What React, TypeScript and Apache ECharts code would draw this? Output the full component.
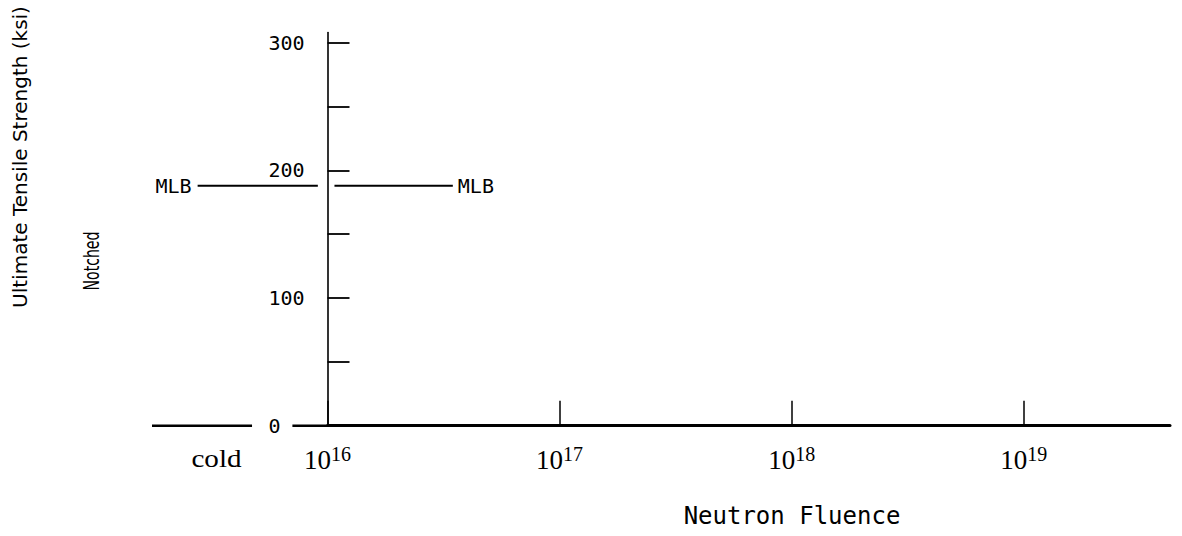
import React, { useEffect, useRef } from "react";
import * as echarts from "echarts";

// Neutron fluence is plotted as its base-10 exponent (10^16 ... 10^19).
const fluenceExponents = [16, 17, 18, 19];
const fluenceMax = 19.63;

// Ultimate tensile strength axis (ksi)
const strengthTicks = [50, 100, 150, 200, 250, 300];
const strengthLabels = [0, 100, 200, 300];
const strengthMax = 308;

// MLB reference level (ksi)
const mlbStrength = 188;
// Span of the MLB line on the irradiated side (fluence exponent)
const mlbIrradiatedSpan = [16.03, 16.54];

// The "cold" (unirradiated) band left of the fluence axis, in band units 0..100
const coldBandMax = 100;
const mlbColdSpan = [26, 94.5];
const coldBaselineSpan = [0, 57];
const fluenceAxisLeadIn = [80, 100];

const MONO = '"DejaVu Sans Mono", monospace';
const SANS = '"DejaVu Sans", sans-serif';
const SERIF = '"Liberation Serif", serif';

export default function App() {
  const ref = useRef<HTMLDivElement>(null);

  useEffect(() => {
    if (!ref.current) return;
    const chart = echarts.init(ref.current, undefined, { renderer: "svg" });

    const gridTop = 32.5;
    const gridBottom = 110.3;

    const lineStyle = (w: number) => ({ color: "#000", width: w, type: "solid" as const });

    const option: any = {
      animation: false,
      backgroundColor: "#fff",
      grid: [
        {
          left: 327.5,
          right: 12,
          top: gridTop,
          bottom: gridBottom,
          containLabel: false,
          outerBoundsMode: "none",
        },
        {
          left: 152,
          width: 175.5,
          top: gridTop,
          bottom: gridBottom,
          containLabel: false,
          outerBoundsMode: "none",
        },
      ],
      xAxis: [
        {
          type: "value",
          gridIndex: 0,
          min: fluenceExponents[0],
          max: fluenceMax,
          splitLine: { show: false },
          axisLine: { show: true, lineStyle: lineStyle(3) },
          axisTick: {
            show: true,
            inside: true,
            length: 25,
            customValues: fluenceExponents,
            lineStyle: lineStyle(1.5),
          },
          axisLabel: {
            show: true,
            customValues: fluenceExponents,
            margin: 18,
            formatter: (v: number) => `{b|10}{s|${Math.round(v)}}`,
            rich: {
              b: {
                fontFamily: SERIF,
                fontSize: 27,
                lineHeight: 30,
                verticalAlign: "bottom",
                color: "#000",
              },
              s: {
                fontFamily: SERIF,
                fontSize: 20,
                lineHeight: 22,
                verticalAlign: "top",
                color: "#000",
              },
            },
          },
        },
        {
          type: "value",
          gridIndex: 1,
          min: 0,
          max: coldBandMax,
          show: false,
        },
      ],
      yAxis: [
        {
          type: "value",
          gridIndex: 0,
          min: 0,
          max: strengthMax,
          splitLine: { show: false },
          axisLine: { show: true, lineStyle: lineStyle(1.6) },
          axisTick: {
            show: true,
            inside: true,
            length: 22,
            customValues: strengthTicks,
            lineStyle: lineStyle(1.8),
          },
          axisLabel: {
            show: true,
            customValues: strengthLabels,
            align: "left",
            margin: 59,
            fontFamily: MONO,
            fontSize: 20,
            color: "#000",
          },
        },
        {
          type: "value",
          gridIndex: 1,
          min: 0,
          max: strengthMax,
          show: false,
        },
      ],
      series: [
        {
          name: "MLB irradiated",
          type: "line",
          xAxisIndex: 0,
          yAxisIndex: 0,
          clip: false,
          silent: true,
          showSymbol: true,
          symbol: "circle",
          symbolSize: 0,
          lineStyle: lineStyle(2),
          itemStyle: { color: "#000" },
          data: [
            [mlbIrradiatedSpan[0], mlbStrength],
            {
              value: [mlbIrradiatedSpan[1], mlbStrength],
              label: {
                show: true,
                position: "right",
                distance: 5,
                formatter: "MLB",
                fontFamily: MONO,
                fontSize: 20,
                color: "#000",
              },
            },
          ],
        },
        {
          name: "MLB cold",
          type: "line",
          xAxisIndex: 1,
          yAxisIndex: 1,
          clip: false,
          silent: true,
          showSymbol: true,
          symbol: "circle",
          symbolSize: 0,
          lineStyle: lineStyle(2),
          itemStyle: { color: "#000" },
          data: [
            {
              value: [mlbColdSpan[0], mlbStrength],
              label: {
                show: true,
                position: "left",
                distance: 6,
                formatter: "MLB",
                fontFamily: MONO,
                fontSize: 20,
                color: "#000",
              },
            },
            [mlbColdSpan[1], mlbStrength],
          ],
        },
        {
          name: "cold baseline",
          type: "line",
          xAxisIndex: 1,
          yAxisIndex: 1,
          clip: false,
          silent: true,
          showSymbol: false,
          lineStyle: lineStyle(2.5),
          data: [
            [coldBaselineSpan[0], 0],
            [coldBaselineSpan[1], 0],
          ],
        },
        {
          name: "fluence axis lead-in",
          type: "line",
          xAxisIndex: 1,
          yAxisIndex: 1,
          clip: false,
          silent: true,
          showSymbol: false,
          lineStyle: lineStyle(2.5),
          data: [
            [fluenceAxisLeadIn[0], 0],
            [fluenceAxisLeadIn[1], 0],
          ],
        },
      ],
      graphic: [
        {
          type: "text",
          x: 20,
          y: 157,
          rotation: Math.PI / 2,
          style: {
            text: "Ultimate Tensile Strength (ksi)",
            font: `20px ${SANS}`,
            fill: "#000",
            textAlign: "center",
            textVerticalAlign: "middle",
          },
        },
        {
          type: "text",
          x: 91,
          y: 261,
          rotation: Math.PI / 2,
          scaleX: 0.64,
          style: {
            text: "Notched",
            font: `22px ${SANS}`,
            fill: "#000",
            textAlign: "center",
            textVerticalAlign: "middle",
          },
        },
        {
          type: "text",
          x: 792,
          y: 516,
          style: {
            text: "Neutron Fluence",
            font: `24px ${MONO}`,
            fill: "#000",
            textAlign: "center",
            textVerticalAlign: "middle",
          },
        },
        {
          type: "text",
          x: 216.5,
          y: 458,
          scaleX: 1.12,
          style: {
            text: "cold",
            font: `26px ${SERIF}`,
            fill: "#000",
            textAlign: "center",
            textVerticalAlign: "middle",
          },
        },
      ],
    };

    chart.setOption(option);
    return () => chart.dispose();
  }, []);

  return (
    <div
      ref={ref}
      style={{ position: "absolute", left: 0, top: 0, width: 1182, height: 536 }}
    />
  );
}
